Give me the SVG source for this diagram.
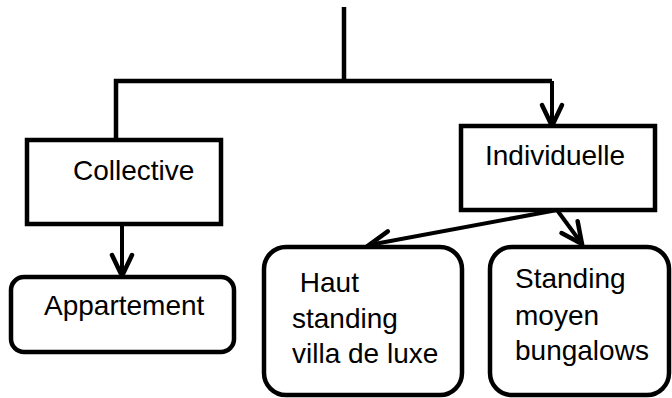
<svg xmlns="http://www.w3.org/2000/svg" width="672" height="398" viewBox="0 0 672 398">
<style>
.box{fill:#fff;stroke:#000;stroke-width:4.5}
.ln{fill:none;stroke:#000;stroke-width:4.5}
.ar{fill:none;stroke:#000;stroke-width:4;marker-end:url(#v)}
text{font-family:"Liberation Sans",Arial,sans-serif;font-size:28px;fill:#000}
</style>
<defs>
<marker id="v" markerUnits="userSpaceOnUse" viewBox="-26 -14 30 28" markerWidth="30" markerHeight="28" refX="0" refY="0" orient="auto" overflow="visible">
<path d="M-21 -10 L0 0 L-21 10" fill="none" stroke="#000" stroke-width="4.5" stroke-linecap="round" stroke-linejoin="miter"/>
</marker>
</defs>
<g id="connectors">
<path class="ln" d="M344 7 V81"/>
<path class="ln" d="M116 140 V81 H552"/>
<path class="ar" d="M552 81 V126"/>
<path class="ar" d="M122 224 V276"/>
<path class="ar" d="M557 210 L369 245"/>
<path class="ar" d="M557 210 L582 244"/>
</g>
<g id="collective">
<rect class="box" x="27" y="140" width="194" height="84"/>
<text x="73" y="180">Collective</text>
</g>
<g id="individuelle">
<rect class="box" x="461" y="126" width="194" height="84"/>
<text x="485" y="165">Individuelle</text>
</g>
<g id="appartement">
<rect class="box" x="11" y="277" width="223" height="75" rx="13"/>
<text x="44" y="315">Appartement</text>
</g>
<g id="haut">
<rect class="box" x="264" y="247" width="198" height="148" rx="22"/>
<text x="292" y="292" xml:space="preserve"> Haut</text>
<text x="292" y="328">standing</text>
<text x="292" y="363">villa de luxe</text>
</g>
<g id="standing">
<rect class="box" x="490" y="247" width="179" height="148" rx="22"/>
<text x="515" y="288">Standing</text>
<text x="515" y="325">moyen</text>
<text x="515" y="360">bungalows</text>
</g>
</svg>
